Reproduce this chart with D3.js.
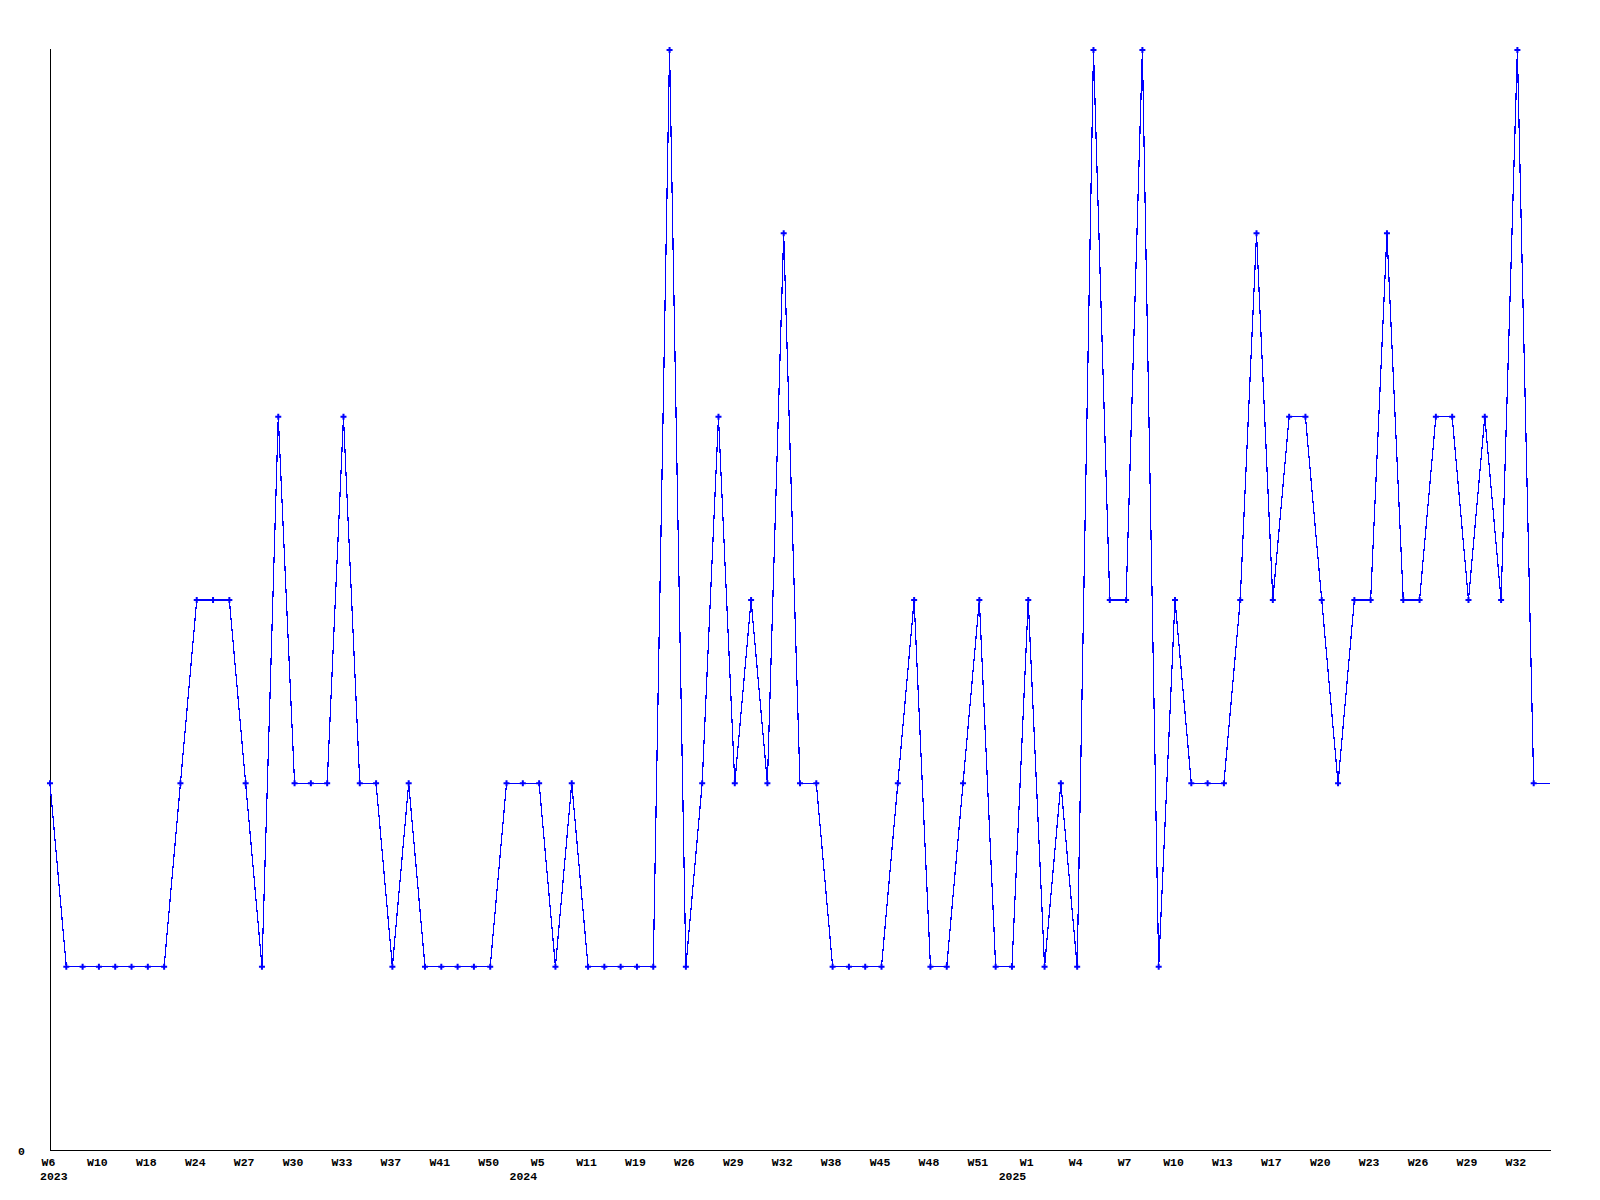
<!DOCTYPE html>
<html>
<head>
<meta charset="utf-8">
<script src="https://cdn.jsdelivr.net/npm/d3@7"></script>
<style>
  html, body { margin: 0; padding: 0; background: #ffffff; }
  svg { display: block; }
  text { font-family: "Liberation Mono", "DejaVu Sans Mono", monospace; font-weight: bold; font-size: 11.5px; fill: #000; }
</style>
</head>
<body>
<svg id="chart" width="1600" height="1200"></svg>
<script>
// Periods (year-week) on the x axis; only every third one is labelled in the reference
const periods = [
  "2023-W6","2023-W7","2023-W8","2023-W10","2023-W12","2023-W15","2023-W18","2023-W20","2023-W22",
  "2023-W24","2023-W25","2023-W26","2023-W27","2023-W28","2023-W29","2023-W30","2023-W31","2023-W32",
  "2023-W33","2023-W34","2023-W36","2023-W37","2023-W38","2023-W40","2023-W41","2023-W44","2023-W47",
  "2023-W50","2023-W51","2024-W2","2024-W5","2024-W7","2024-W9","2024-W11","2024-W14","2024-W17",
  "2024-W19","2024-W22","2024-W24","2024-W26","2024-W27","2024-W28","2024-W29","2024-W30","2024-W31",
  "2024-W32","2024-W34","2024-W36","2024-W38","2024-W40","2024-W43","2024-W45","2024-W46","2024-W47",
  "2024-W48","2024-W49","2024-W50","2024-W51","2024-W52a","2024-W52b","2025-W1","2025-W2","2025-W3",
  "2025-W4","2025-W5","2025-W6","2025-W7","2025-W8","2025-W9","2025-W10","2025-W11","2025-W12",
  "2025-W13","2025-W14","2025-W15","2025-W17","2025-W18","2025-W19","2025-W20","2025-W21","2025-W22",
  "2025-W23","2025-W24","2025-W25","2025-W26","2025-W27","2025-W28","2025-W29","2025-W30","2025-W31",
  "2025-W32","2025-W33","2025-W34"
];

// Series values
const values = [
  2,1,1,1,1,1,1,1,2,
  3,3,3,2,1,4,2,2,2,
  4,2,2,1,2,1,1,1,1,
  1,2,2,2,1,2,1,1,1,
  1,1,6,1,2,4,2,3,2,
  5,2,2,1,1,1,1,2,3,
  1,1,2,3,1,1,3,1,2,
  1,6,3,3,6,1,3,2,2,
  2,3,5,3,4,4,3,2,3,
  3,5,3,3,4,4,3,4,3,
  6,2,2
];

// Tick labels (every third period)
const tickLabels = [
  "W6","W10","W18","W24","W27","W30","W33","W37","W41","W50",
  "W5","W11","W19","W26","W29","W32","W38","W45","W48","W51",
  "W1","W4","W7","W10","W13","W17","W20","W23","W26","W29","W32"
];
const tickStep = 3;
// Year labels shown under the first tick of each year (index into tickLabels)
const yearTickIndex = [0, 10, 20];
const yearLabels = ["2023", "2024", "2025"];

const yTickValues = [0];
const yMax = 6;

const svg = d3.select("#chart");
const mLeft = 50, mRight = 1550, mTop = 50, mBottom = 1150;

const x = d3.scaleLinear().domain([0, periods.length - 1]).range([mLeft, mRight]);
const y = d3.scaleLinear().domain([0, yMax]).range([mBottom, mTop]);

// Axes lines
svg.append("line").attr("x1", mLeft + 0.5).attr("x2", mLeft + 0.5)
  .attr("y1", mTop - 1).attr("y2", mBottom + 0.5)
  .attr("stroke", "#000").attr("stroke-width", 1).attr("shape-rendering", "crispEdges");
svg.append("line").attr("x1", mLeft).attr("x2", mRight + 1)
  .attr("y1", mBottom + 0.5).attr("y2", mBottom + 0.5)
  .attr("stroke", "#000").attr("stroke-width", 1).attr("shape-rendering", "crispEdges");

// Y tick labels
const yAxis = d3.axisLeft(y).tickValues(yTickValues).tickSize(0).tickPadding(25).tickFormat(d3.format("d"));
const gy = svg.append("g").attr("transform", `translate(${mLeft},0)`).call(yAxis);
gy.select(".domain").remove();
gy.attr("font-family", null).attr("font-size", null);
gy.selectAll("text").attr("dy", "0.35em");

// X tick labels
const tickIdx = tickLabels.map((_, i) => i * tickStep);
const xAxis = d3.axisBottom(x).tickValues(tickIdx).tickSize(0).tickPadding(0)
  .tickFormat((d, i) => tickLabels[i]);
const gx = svg.append("g").attr("transform", `translate(-2,${mBottom})`).call(xAxis);
gx.select(".domain").remove();
gx.attr("font-family", null).attr("font-size", null);
gx.selectAll("text").attr("dy", null).attr("y", 16);

// Year labels
svg.append("g").selectAll("text")
  .data(yearLabels)
  .join("text")
  .attr("x", (d, i) => Math.max(40 + 27.6, x(tickIdx[yearTickIndex[i]]) - 2))
  .attr("y", mBottom + 30)
  .attr("text-anchor", "end")
  .text(d => d);

// Line
const line = d3.line().x((d, i) => x(i)).y(d => y(d));
svg.append("path")
  .datum(values)
  .attr("d", line)
  .attr("fill", "none")
  .attr("stroke", "#0000ff")
  .attr("stroke-width", 1.2)
  .attr("shape-rendering", "crispEdges");

// Markers (the last value runs into the plot edge without a marker)
svg.append("g").selectAll("path")
  .data(values.slice(0, values.length - 1))
  .join("path")
  .attr("transform", (d, i) => `translate(${x(i)},${y(d)})`)
  .attr("d", d3.symbol().type(d3.symbolCross).size(20))
  .attr("fill", "#0000ff");
</script>
</body>
</html>
